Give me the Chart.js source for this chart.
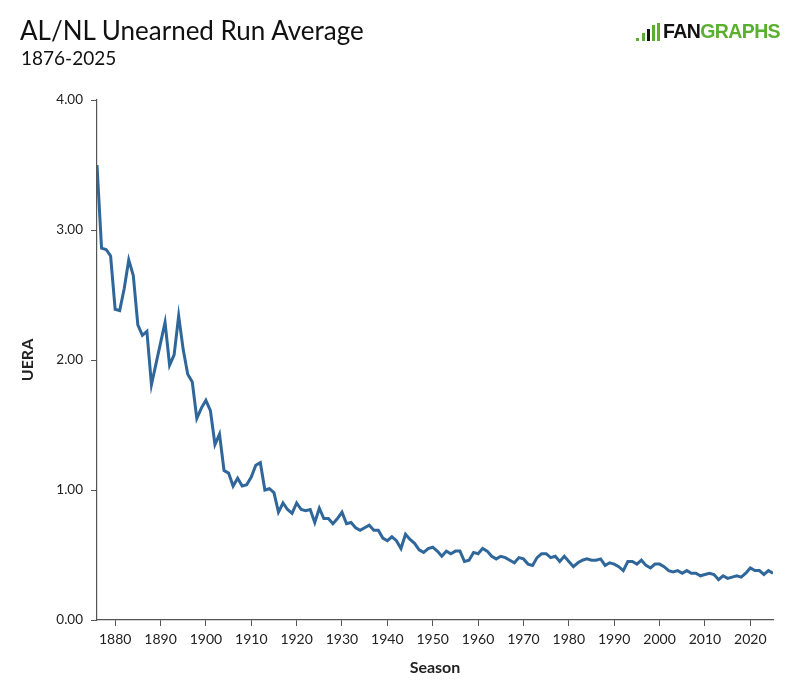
<!DOCTYPE html>
<html>
<head>
<meta charset="utf-8">
<script src="https://cdn.jsdelivr.net/npm/chart.js@4"></script>
<style>
  html, body { margin: 0; padding: 0; background: #fff; }
  #wrap { position: relative; width: 800px; height: 700px; overflow: hidden; }
  #chart { position: absolute; left: 0; top: 0; }
  #title { position: absolute; left: 20px; top: 14px; font-family: Lato, sans-serif; font-size: 26px; color: #111; white-space: nowrap; }
  #subtitle { position: absolute; left: 21px; top: 46px; font-family: Lato, sans-serif; font-size: 19px; color: #111; white-space: nowrap; }
  #logo { position: absolute; left: 636px; top: 20px; height: 24px; white-space: nowrap; }
  #logo .bar { position: absolute; bottom: 3px; width: 3px; background: #5aaf31; }
  #logo .txt { position: absolute; left: 27px; top: 0px; font-family: "Liberation Sans", Arial, sans-serif; font-weight: bold; font-size: 19.5px; letter-spacing: -0.6px; }
  #logo .fan { color: #111; }
  #logo .graphs { color: #5aaf31; }
</style>
</head>
<body>
<div id="wrap">
  <canvas id="chart" width="800" height="700"></canvas>
  <div id="title">AL/NL Unearned Run Average</div>
  <div id="subtitle">1876-2025</div>
  <div id="logo">
    <span class="bar" style="left:0px;height:3px;"></span>
    <span class="bar" style="left:6px;height:8px;"></span>
    <span class="bar" style="left:11px;height:12px;background:#111;"></span>
    <span class="bar" style="left:16px;height:16px;"></span>
    <span class="bar" style="left:21px;height:18px;"></span>
    <span class="txt"><span class="fan">FAN</span><span class="graphs">GRAPHS</span></span>
  </div>
</div>
<script>
const firstSeason = 1876;
const uera = [
  3.50, 2.86, 2.85, 2.80, 2.39, 2.38, 2.55, 2.77, 2.65, 2.27,
  2.19, 2.22, 1.81, 1.97, 2.13, 2.29, 1.96, 2.04, 2.34, 2.08,
  1.89, 1.83, 1.55, 1.63, 1.69, 1.61, 1.35, 1.43, 1.15, 1.13,
  1.03, 1.09, 1.03, 1.04, 1.10, 1.19, 1.21, 1.00, 1.01, 0.98,
  0.83, 0.90, 0.85, 0.82, 0.90, 0.85, 0.84, 0.85, 0.75, 0.86,
  0.78, 0.78, 0.74, 0.78, 0.83, 0.74, 0.75, 0.71, 0.69, 0.71,
  0.73, 0.69, 0.69, 0.63, 0.61, 0.64, 0.61, 0.55, 0.66, 0.62,
  0.59, 0.54, 0.52, 0.55, 0.56, 0.53, 0.49, 0.53, 0.51, 0.53,
  0.53, 0.45, 0.46, 0.52, 0.51, 0.55, 0.53, 0.49, 0.47, 0.49,
  0.48, 0.46, 0.44, 0.48, 0.47, 0.43, 0.42, 0.48, 0.51, 0.51,
  0.48, 0.49, 0.45, 0.49, 0.45, 0.41, 0.44, 0.46, 0.47, 0.46,
  0.46, 0.47, 0.42, 0.44, 0.43, 0.41, 0.38, 0.45, 0.45, 0.43,
  0.46, 0.42, 0.40, 0.43, 0.43, 0.41, 0.38, 0.37, 0.38, 0.36,
  0.38, 0.36, 0.36, 0.34, 0.35, 0.36, 0.35, 0.31, 0.34, 0.32,
  0.33, 0.34, 0.33, 0.36, 0.40, 0.38, 0.38, 0.35, 0.38, 0.36
];
const seasons = uera.map((_, i) => firstSeason + i);
const xTickValues = [1880, 1890, 1900, 1910, 1920, 1930, 1940, 1950, 1960, 1970, 1980, 1990, 2000, 2010, 2020];
const yTickValues = [0, 1, 2, 3, 4];

const points = seasons.map((s, i) => ({ x: s, y: uera[i] }));
const axisColor = '#555';
const textColor = '#222';

new Chart(document.getElementById('chart'), {
  type: 'line',
  data: {
    datasets: [{
      data: points,
      borderColor: '#30679a',
      borderWidth: 3,
      pointRadius: 0,
      tension: 0,
      fill: false
    }]
  },
  options: {
    responsive: false,
    animation: false,
    devicePixelRatio: 1,
    layout: { padding: { left: 0, right: 27, top: 100, bottom: 22.4 } },
    plugins: { legend: { display: false }, tooltip: { enabled: false } },
    scales: {
      x: {
        type: 'linear',
        min: 1876,
        max: 2025,
        afterBuildTicks: (scale) => { scale.ticks = xTickValues.map(v => ({ value: v })); },
        ticks: {
          color: textColor,
          font: { family: 'Lato', size: 14 },
          padding: 5,
          maxRotation: 0,
          autoSkip: false,
          callback: (v) => String(v)
        },
        grid: { display: true, drawOnChartArea: false, drawTicks: true, tickLength: 6, color: axisColor, lineWidth: 1 },
        border: { display: true, color: axisColor, width: 1.2 },
        title: { display: true, text: 'Season', color: textColor, font: { family: 'Lato', size: 16, weight: 'bold' }, padding: { top: 5.6, bottom: 0 } }
      },
      y: {
        type: 'linear',
        min: 0,
        max: 4,
        afterBuildTicks: (scale) => { scale.ticks = yTickValues.map(v => ({ value: v })); },
        afterFit: (scale) => { scale.width = 97; },
        ticks: {
          color: textColor,
          font: { family: 'Lato', size: 13.5 },
          padding: 8,
          callback: (v) => Number(v).toFixed(2)
        },
        grid: { display: true, drawOnChartArea: false, drawTicks: true, tickLength: 6, color: axisColor, lineWidth: 1 },
        border: { display: true, color: axisColor, width: 1.2 },
        title: { display: true, text: 'UERA', color: textColor, font: { family: 'Lato', size: 16, weight: 'bold' }, padding: { top: 18, bottom: 0 } }
      }
    }
  }
});
</script>
</body>
</html>
